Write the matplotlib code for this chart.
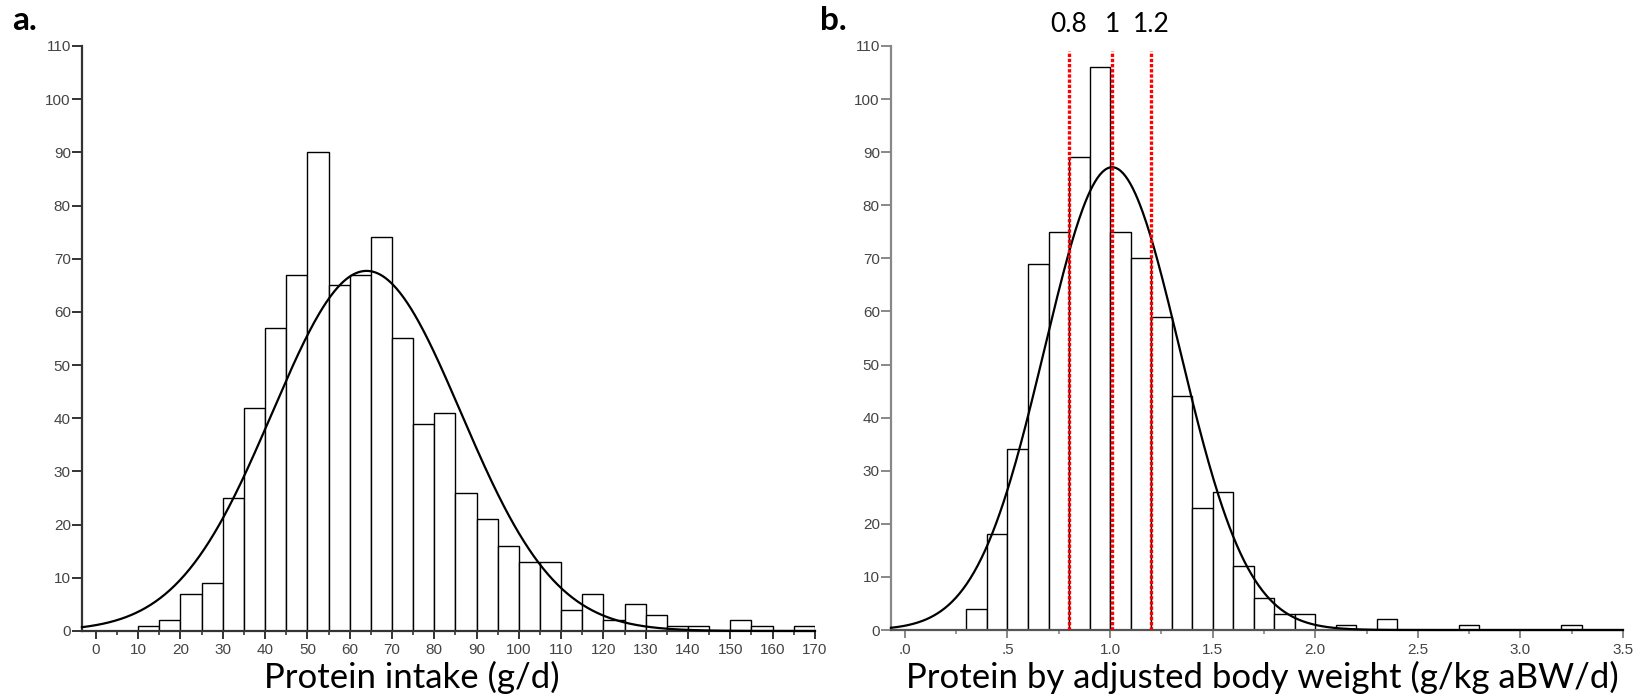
import numpy as np
import matplotlib
matplotlib.use("Agg")
import matplotlib.pyplot as plt
from matplotlib.ticker import MultipleLocator, FixedLocator
from matplotlib.transforms import blended_transform_factory

# ---- data ----
# a. protein intake (g/d), bins of 5 starting at 10
intake_start = 10
intake_width = 5
intake_counts = [1, 2, 7, 9, 25, 42, 57, 67, 90, 65, 67, 74, 55, 39, 41, 26,
                 21, 16, 13, 13, 4, 7, 2, 5, 3, 1, 1, 0, 2, 1, 0, 1]
intake_mean = 64.0
intake_sd = 22.3

# b. protein by adjusted body weight (g/kg aBW/d), bins of 0.1 starting at 0.3
abw_start = 0.3
abw_width = 0.1
abw_counts = [4, 18, 34, 69, 75, 89, 106, 75, 70, 59, 44, 23, 26, 12, 6, 3, 3,
              0, 1, 0, 2, 0, 0, 0, 1, 0, 0, 0, 0, 1]
abw_mean = 1.01
abw_sd = 0.33
ref_lines = [0.8, 1.01, 1.2]
ref_labels = ["0.8", "1", "1.2"]

TICK_FONT = "Liberation Sans"
LABEL_FONT = "Lato"

fig = plt.figure(figsize=(16.42, 6.99), dpi=100)
fig.patch.set_facecolor("white")


def draw_hist(ax, start, width, counts, mean, sd, xlim, spine_col):
    lefts = start + width * np.arange(len(counts))
    ax.bar(lefts, counts, width=width, align="edge", color="white",
           edgecolor="black", linewidth=1.0, zorder=2)
    n = sum(counts)
    xs = np.linspace(xlim[0], xlim[1], 600)
    ys = n * width / (sd * np.sqrt(2 * np.pi)) * np.exp(-0.5 * ((xs - mean) / sd) ** 2)
    ax.plot(xs, ys, color="black", linewidth=1.6, zorder=4, clip_on=False)
    ax.set_xlim(*xlim)
    ax.set_ylim(0, 110)
    ax.yaxis.set_major_locator(MultipleLocator(10))
    for s in ("top", "right"):
        ax.spines[s].set_visible(False)
    for s in ("left", "bottom"):
        ax.spines[s].set_color(spine_col)
        ax.spines[s].set_linewidth(1.6)
    ax.tick_params(axis="y", direction="out", length=7, width=1.4, pad=1,
                   colors=spine_col, labelcolor="#444444", labelsize=11)
    ax.tick_params(axis="x", which="major", direction="out", length=6, width=1.4,
                   pad=3, colors=spine_col, labelcolor="#444444", labelsize=11)
    ax.tick_params(axis="x", which="minor", direction="out", length=3, width=1.2,
                   colors=spine_col)


# ---- panel a ----
ax1 = fig.add_axes([0.0499, 0.0973, 0.4464, 0.8369])
draw_hist(ax1, intake_start, intake_width, intake_counts, intake_mean,
          intake_sd, (-3.3, 170), "#333333")
ax1.xaxis.set_major_locator(MultipleLocator(10))
ax1.xaxis.set_minor_locator(MultipleLocator(5))
for lbl in ax1.get_xticklabels() + ax1.get_yticklabels():
    lbl.set_family(TICK_FONT)

# ---- panel b ----
ax2 = fig.add_axes([0.5426, 0.0987, 0.4458, 0.8355])
draw_hist(ax2, abw_start, abw_width, abw_counts, abw_mean, abw_sd,
          (-0.068, 3.5), "#888888")
ax2.spines["bottom"].set_color("#555555")
ax2.xaxis.set_major_locator(FixedLocator([0, 0.5, 1, 1.5, 2, 2.5, 3, 3.5]))
ax2.set_xticklabels([".0", ".5", "1.0", "1.5", "2.0", "2.5", "3.0", "3.5"])
ax2.xaxis.set_minor_locator(MultipleLocator(0.25))
for lbl in ax2.get_xticklabels() + ax2.get_yticklabels():
    lbl.set_family(TICK_FONT)

# red reference lines with their labels above the plot
top_trans = blended_transform_factory(ax2.transData, fig.transFigure)
for xv, txt in zip(ref_lines, ref_labels):
    ax2.vlines(xv, 0, 109, colors="#ff0000", linewidth=2.4,
               linestyles=(0, (1, 0.55)), zorder=5)
    ax2.text(xv, 1 - 32 / 699, txt, transform=top_trans,
             ha="center", va="baseline", fontsize=19, family=LABEL_FONT)

# ---- axis labels and panel letters ----
fig.text(0.251, 0.0157, "Protein intake (g/d)", ha="center", va="baseline",
         fontsize=25, family=LABEL_FONT)
fig.text(0.7686, 0.0157, "Protein by adjusted body weight (g/kg aBW/d)",
         ha="center", va="baseline", fontsize=25, family=LABEL_FONT)
fig.text(0.0075, 1 - 30 / 699, "a.", ha="left", va="baseline", fontsize=24,
         fontweight="bold", family=LABEL_FONT)
fig.text(0.4996, 1 - 30 / 699, "b.", ha="left", va="baseline", fontsize=24,
         fontweight="bold", family=LABEL_FONT)

fig.savefig("out.png", dpi=100, facecolor="white")
